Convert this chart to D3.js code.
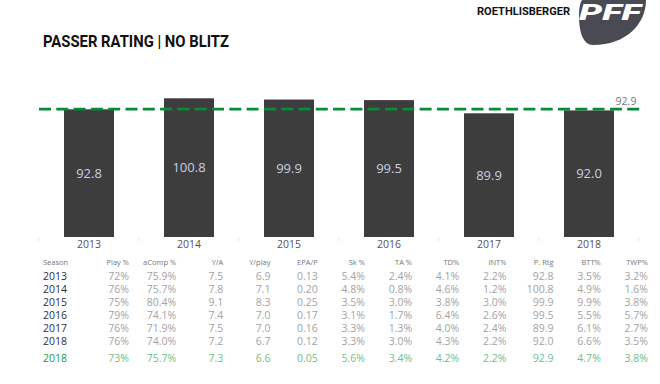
<!DOCTYPE html>
<html><head><meta charset="utf-8">
<script src="https://cdn.jsdelivr.net/npm/d3@7"></script>
<style>html,body{margin:0;padding:0;background:#fff;}svg{display:block;}</style>
</head><body>
<svg id="chart" width="660" height="384"></svg>
<script>
const seasons = ['2013','2014','2015','2016','2017','2018'];
const passerRating = [92.8, 100.8, 99.9, 99.5, 89.9, 92.0];
const referenceValue = 92.9;

const tableHeaders = ['Season','Play %','aComp %','Y/A','Y/play','EPA/P','Sk %','TA %','TD%','INT%','P. Rtg','BTT%','TWP%'];
const playPct  = ['72%','76%','75%','79%','76%','76%'];
const aCompPct = ['75.9%','75.7%','80.4%','74.1%','71.9%','74.0%'];
const yPerAtt  = ['7.5','7.8','9.1','7.4','7.5','7.2'];
const yPerPlay = ['6.9','7.1','8.3','7.0','7.0','6.7'];
const epaPerPlay = ['0.13','0.20','0.25','0.17','0.16','0.12'];
const sackPct  = ['5.4%','4.8%','3.5%','3.1%','3.3%','3.3%'];
const taPct    = ['2.4%','0.8%','3.0%','1.7%','1.3%','3.0%'];
const tdPct    = ['4.1%','4.6%','3.8%','6.4%','4.0%','4.3%'];
const intPct   = ['2.2%','1.2%','3.0%','2.6%','2.4%','2.2%'];
const pRtg     = ['92.8','100.8','99.9','99.5','89.9','92.0'];
const bttPct   = ['3.5%','4.9%','9.9%','5.5%','6.1%','6.6%'];
const twpPct   = ['3.2%','1.6%','3.8%','5.7%','2.7%','3.5%'];
const summaryRow = ['2018','73%','75.7%','7.3','6.6','0.05','5.6%','3.4%','4.2%','2.2%','92.9','4.7%','3.8%'];

const svg = d3.select('#chart');
const font = "'Open Sans', 'Noto Sans', sans-serif";

// Header
svg.append('text').attr('x', 43).attr('y', 46.5)
  .attr('font-family', "Roboto, sans-serif").attr('font-weight', 700).attr('font-size', 17)
  .attr('fill', '#111').attr('textLength', 186).attr('lengthAdjust', 'spacingAndGlyphs')
  .text('PASSER RATING | NO BLITZ');
svg.append('text').attr('x', 477).attr('y', 14.8)
  .attr('font-family', "Roboto, sans-serif").attr('font-weight', 700).attr('font-size', 10.5)
  .attr('fill', '#111').attr('textLength', 93).attr('lengthAdjust', 'spacingAndGlyphs')
  .text('ROETHLISBERGER');

// Logo
const logo = svg.append('g');
logo.append('path')
  .attr('d', 'M582,0 L646,0 C646,24 626,45 593,45 C583,45 579,32 579,16 C579,8 580,3 582,0 Z')
  .attr('fill', '#4a4a52');
logo.append('text').attr('x', 579).attr('y', 20)
  .attr('font-family', "Roboto, sans-serif").attr('font-weight', 900).attr('font-style', 'italic')
  .attr('font-size', 22).attr('fill', '#fff').attr('textLength', 62).attr('lengthAdjust', 'spacingAndGlyphs')
  .text('PFF');

// Scales
const x = d3.scaleBand().domain(seasons).range([39, 639]).paddingInner(0.5).paddingOuter(0.25);
const y = d3.scaleLinear().domain([0, 120]).range([237, 237 - 1.376 * 120]);

// Bars
const bars = svg.append('g');
bars.selectAll('rect').data(seasons).join('rect')
  .attr('x', d => x(d)).attr('width', x.bandwidth())
  .attr('y', (d, i) => y(passerRating[i])).attr('height', (d, i) => y(0) - y(passerRating[i]))
  .attr('fill', '#3d3d3d');
bars.selectAll('text').data(seasons).join('text')
  .attr('x', d => x(d) + x.bandwidth() / 2)
  .attr('y', (d, i) => (y(passerRating[i]) + y(0)) / 2)
  .attr('dy', '0.35em').attr('text-anchor', 'middle')
  .attr('font-family', font).attr('font-size', 13).attr('fill', '#c9cfe0')
  .text((d, i) => passerRating[i].toFixed(1));

// X axis
const xAxis = d3.axisBottom(x).tickSize(0).tickPadding(0);
const ax = svg.append('g').attr('transform', `translate(0,${y(0)})`).call(xAxis);
ax.select('.domain').remove();
ax.selectAll('text').attr('font-family', font).attr('font-size', 10.5).attr('fill', '#555').attr('dy', '1.05em');
// faint band separators
svg.append('g').selectAll('line').data(d3.range(seasons.length + 1)).join('line')
  .attr('x1', i => 39 + i * x.step()).attr('x2', i => 39 + i * x.step())
  .attr('y1', y(0) + 1).attr('y2', y(0) + 4)
  .attr('stroke', '#e4e4e4').attr('stroke-width', 1);

// Reference line
svg.append('line')
  .attr('x1', 39).attr('x2', 640)
  .attr('y1', y(referenceValue)).attr('y2', y(referenceValue))
  .attr('stroke', '#0a8a3c').attr('stroke-width', 2.6).attr('stroke-dasharray', '12,5.3');
svg.append('text').attr('x', 626).attr('y', y(referenceValue) - 8)
  .attr('dy', '0.35em').attr('text-anchor', 'middle')
  .attr('font-family', font).attr('font-size', 10.5).attr('fill', '#777')
  .text(referenceValue.toFixed(1));

// Table
const columns = [seasons, playPct, aCompPct, yPerAtt, yPerPlay, epaPerPlay, sackPct, taPct, tdPct, intPct, pRtg, bttPct, twpPct];
const colX = d3.scalePoint().domain(tableHeaders.slice(1)).range([129, 648]);
const rowY = d3.scalePoint().domain(seasons).range([276.7, 341.7]);
const tbl = svg.append('g');
tableHeaders.forEach((h, ci) => {
  const isSeason = ci === 0;
  const xx = isSeason ? 43 : colX(h);
  const anchor = isSeason ? 'start' : 'end';
  tbl.append('text').attr('x', xx).attr('y', 262.5).attr('dy', '0.35em')
    .attr('text-anchor', anchor).attr('font-family', font).attr('font-size', 7.5)
    .attr('fill', '#777').text(h);
  columns[ci].forEach((v, ri) => {
    tbl.append('text').attr('x', xx).attr('y', rowY(seasons[ri])).attr('dy', '0.35em')
      .attr('text-anchor', anchor).attr('font-family', font).attr('font-size', 10.5)
      .attr('fill', isSeason ? '#2f2f3a' : '#a3a3a3').text(v);
  });
  tbl.append('text').attr('x', xx).attr('y', 358.3).attr('dy', '0.35em')
    .attr('text-anchor', anchor).attr('font-family', font).attr('font-size', 10.5)
    .attr('fill', isSeason ? '#1c9a4a' : '#6fc08a').text(summaryRow[ci]);
});
</script>
</body></html>
